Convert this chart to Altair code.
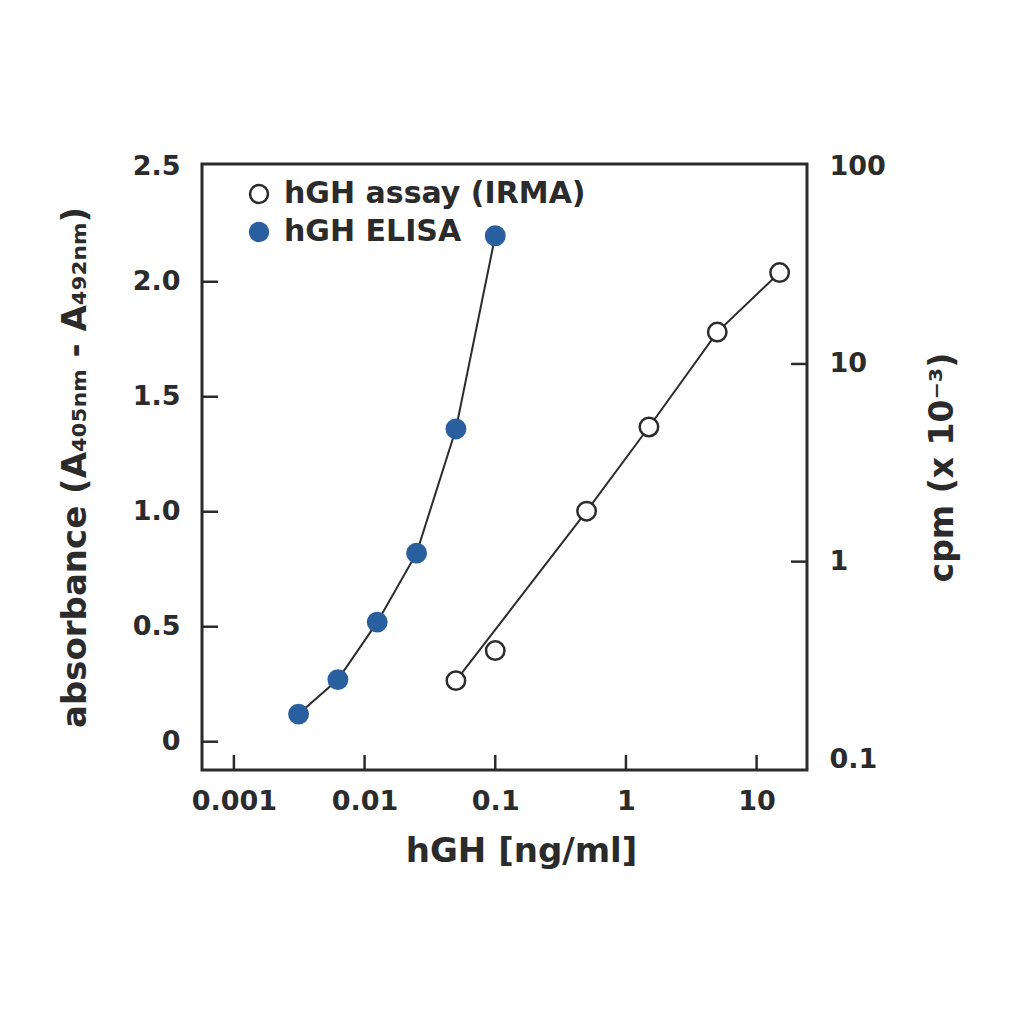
import altair as alt
import pandas as pd

# ---- data ----
elisa_conc = [0.003125, 0.00625, 0.0125, 0.025, 0.05, 0.1]
elisa_abs = [0.12, 0.27, 0.52, 0.82, 1.36, 2.20]

irma_conc = [0.05, 0.1, 0.5, 1.5, 5, 15]
irma_cpm = [0.25, 0.355, 1.8, 4.8, 14.5, 29.0]
irma_on_line = [True, False, True, True, True, True]

series_names = ["hGH assay (IRMA)", "hGH ELISA"]

x_ticks = [0.001, 0.01, 0.1, 1, 10]
left_ticks = [0, 0.5, 1.0, 1.5, 2.0, 2.5]
left_inner_ticks = [0, 0.5, 1.0, 1.5, 2.0]
right_ticks = [0.1, 1, 10, 100]
right_inner_ticks = [1, 10]

BLUE = "#2a5f9f"
INK = "#2b2b2b"
FONT = "DejaVu Sans"

W, H = 605, 606

elisa_df = pd.DataFrame({"x": elisa_conc, "y": elisa_abs, "series": series_names[1]})
irma_df = pd.DataFrame({"x": irma_conc, "y": irma_cpm, "series": series_names[0], "on": irma_on_line})
irma_line_df = irma_df[irma_df["on"]]
xt_df = pd.DataFrame({"x": x_ticks})
lt_df = pd.DataFrame({"y": left_inner_ticks})
rt_df = pd.DataFrame({"y": right_inner_ticks})

x_scale = alt.Scale(type="log", domain=[0.00057, 24.3], nice=False)
left_scale = alt.Scale(domain=[-0.123, 2.512], nice=False, zero=False)
right_scale = alt.Scale(type="log", domain=[0.0883, 102.7], nice=False)

x_axis = alt.Axis(values=x_ticks, format="~g", tickSize=0, domain=False, grid=False,
                  labelFont=FONT, labelFontSize=27, labelFontWeight="bold", labelColor=INK,
                  labelPadding=18, labelFlush=False,
                  title="hGH [ng/ml]", titleFont=FONT, titleFontSize=34, titleFontWeight="bold",
                  titleColor=INK, titlePadding=20, titleX=319)
left_axis = alt.Axis(orient="left", values=left_ticks,
                     labelExpr="datum.value == 0 ? '0' : format(datum.value, '.1f')",
                     tickSize=0, domain=False, grid=False,
                     labelFont=FONT, labelFontSize=27, labelFontWeight="bold", labelColor=INK,
                     labelPadding=22, labelFlush=False,
                     title="absorbance (A₄₀₅ₙₘ - A₄₉₂ₙₘ)", titleFont=FONT, titleFontSize=34,
                     titleFontWeight="bold", titleColor=INK, titlePadding=40)
right_axis = alt.Axis(orient="right", values=right_ticks, format="~g",
                      tickSize=0, domain=False, grid=False,
                      labelFont=FONT, labelFontSize=27, labelFontWeight="bold", labelColor=INK,
                      labelPadding=22, labelFlush=False,
                      title="cpm (x 10⁻³)", titleFont=FONT, titleFontSize=33,
                      titleFontWeight="bold", titleColor=INK, titlePadding=74, titleAngle=270)

fill_scale = alt.Scale(domain=series_names, range=["white", BLUE])
stroke_scale = alt.Scale(domain=series_names, range=[INK, BLUE])
legend = alt.Legend(title=None, orient="none", legendX=42, legendY=15,
                    labelFont=FONT, labelFontSize=30, labelFontWeight="bold", labelColor=INK,
                    labelLimit=0,
                    symbolSize=320, symbolStrokeWidth=2.5, labelOffset=10, rowPadding=8,
                    padding=0, symbolType="circle")

X = alt.X("x:Q", scale=x_scale, axis=x_axis)
YL = alt.Y("y:Q", scale=left_scale, axis=left_axis)
YR = alt.Y("y:Q", scale=right_scale, axis=right_axis)
FILL = alt.Fill("series:N", scale=fill_scale, legend=legend)
STROKE = alt.Stroke("series:N", scale=stroke_scale, legend=legend)

elisa_line = alt.Chart(elisa_df).mark_line(color=INK, strokeWidth=2).encode(x=X, y=YL)
elisa_pts = alt.Chart(elisa_df).mark_point(shape="circle", size=340, strokeWidth=2.5, opacity=1).encode(
    x=X, y=YL, fill=FILL, stroke=STROKE)
x_tick_marks = alt.Chart(xt_df).mark_rule(color=INK, strokeWidth=2.5).encode(
    x=X, y=alt.value(H), y2=alt.value(H - 15))
left_tick_marks = alt.Chart(lt_df).mark_rule(color=INK, strokeWidth=2.5).encode(
    y=YL, x=alt.value(0), x2=alt.value(16))
layer_left = alt.layer(elisa_line, x_tick_marks, left_tick_marks, elisa_pts)

irma_line = alt.Chart(irma_line_df).mark_line(color=INK, strokeWidth=2).encode(x=X, y=YR)
irma_pts = alt.Chart(irma_df).mark_point(shape="circle", size=340, strokeWidth=2.5, opacity=1).encode(
    x=X, y=YR, fill=FILL, stroke=STROKE)
right_tick_marks = alt.Chart(rt_df).mark_rule(color=INK, strokeWidth=2.5).encode(
    y=YR, x=alt.value(W), x2=alt.value(W - 16))
layer_right = alt.layer(irma_line, right_tick_marks, irma_pts)

chart = alt.layer(layer_left, layer_right).resolve_scale(y="independent").properties(
    width=W, height=H,
    background="white",
    autosize=alt.AutoSizeParams(type="none"),
    padding={"left": 194, "top": 156, "right": 195, "bottom": 190},
).configure_view(stroke=INK, strokeWidth=3)

chart.save("out.html", embed_options={"renderer": "svg", "actions": False})
